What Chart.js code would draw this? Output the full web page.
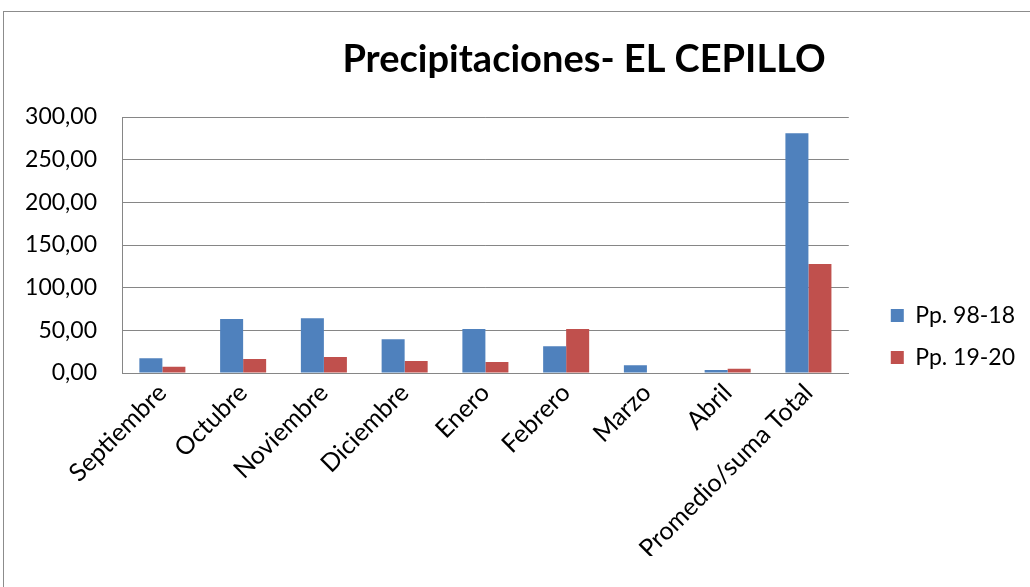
<!DOCTYPE html>
<html>
<head>
<meta charset="utf-8">
<script src="https://cdn.jsdelivr.net/npm/chart.js@4"></script>
<style>
  html, body { margin: 0; padding: 0; background: #fff; }
  #wrap { width: 1030px; height: 587px; position: relative; }
</style>
</head>
<body>
<div id="wrap"><canvas id="chart" width="1030" height="587"></canvas></div>
<script>
const categories = ['Septiembre', 'Octubre', 'Noviembre', 'Diciembre', 'Enero', 'Febrero', 'Marzo', 'Abril', 'Promedio/suma Total'];
const pp9818 = [17.2, 63.3, 64.1, 39.5, 51.6, 31.3, 9.0, 3.5, 281.0];
const pp1920 = [7.4, 16.4, 18.8, 14.1, 12.9, 51.6, 0, 5.0, 127.8];
const yTicks = [0, 50, 100, 150, 200, 250, 300];
const chartTitle = 'Precipitaciones- EL CEPILLO';

const FONT = 'Lato, "Open Sans", sans-serif';

// outer frame like the spreadsheet chart border, plus the title
const frame = {
  id: 'frame',
  beforeDraw(chart) {
    const c = chart.ctx;
    c.save();
    c.strokeStyle = '#8c8c8c';
    c.lineWidth = 1;
    c.strokeRect(3.5, 11.5, 1100, 700);
    c.restore();
  },
  afterDraw(chart) {
    const c = chart.ctx;
    c.save();
    c.fillStyle = '#000';
    c.font = 'bold 38px ' + FONT;
    c.textAlign = 'center';
    c.textBaseline = 'middle';
    c.fillText(chartTitle, 584, 60);
    c.restore();
  }
};

new Chart(document.getElementById('chart'), {
  type: 'bar',
  data: {
    labels: categories,
    datasets: [
      { label: 'Pp. 98-18', data: pp9818, backgroundColor: '#4F81BD', categoryPercentage: 0.57, barPercentage: 1 },
      { label: 'Pp. 19-20', data: pp1920, backgroundColor: '#C0504D', categoryPercentage: 0.57, barPercentage: 1 },
    ],
  },
  options: {
    responsive: false,
    animation: false,
    layout: { padding: { top: 117, left: 22, right: 5, bottom: 31 } },
    plugins: {
      title: { display: false },
      legend: {
        position: 'right',
        labels: {
          color: '#000',
          font: { family: FONT, size: 23 },
          boxWidth: 13,
          boxHeight: 13,
          padding: 19,
        },
      },
      tooltip: { enabled: false },
    },
    scales: {
      x: {
        grid: { display: false, drawTicks: false },
        border: { color: '#868686' },
        ticks: {
          color: '#000',
          font: { family: FONT, size: 25 },
          minRotation: 45,
          maxRotation: 45,
          autoSkip: false,
          padding: 5,
        },
        // labels may run past the bottom edge like in the original
        afterFit: s => { s.paddingLeft = 0; s.paddingRight = 0; s.height = 183; },
      },
      y: {
        min: 0,
        max: 300,
        afterBuildTicks: axis => { axis.ticks = yTicks.map(v => ({ value: v })); },
        afterFit: s => { s.width = 100; },
        grid: { color: '#868686', drawTicks: false },
        border: { color: '#868686' },
        ticks: {
          color: '#000',
          font: { family: FONT, size: 23 },
          padding: 25,
          callback: v => v.toFixed(2).replace('.', ','),
        },
      },
      // empty spacer between plot area and legend
      gap: {
        type: 'linear',
        position: 'right',
        min: 0,
        max: 1,
        grid: { display: false, drawTicks: false },
        border: { display: false },
        ticks: { display: false },
        afterFit: s => { s.width = 23; },
      },
    },
  },
  plugins: [frame],
});
</script>
</body>
</html>
